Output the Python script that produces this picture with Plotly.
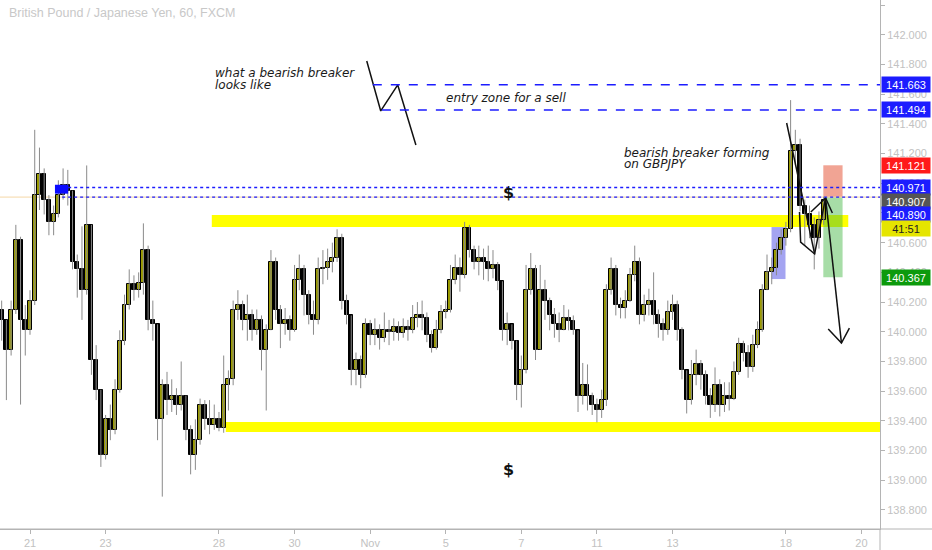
import plotly.graph_objects as go

start_day = -0.75
bars_per_day = 8
first_open = 140.15

closes = [
    140.08, 139.88, 140.15, 140.62, 140.08, 140.01,                    # Oct 18
    140.21, 140.92, 141.06, 140.89, 140.74, 140.79, 140.92, 140.99,    # Oct 21
    140.95, 140.47, 140.42, 140.28, 140.72, 139.81, 139.61, 139.17,    # Oct 22
    139.41, 139.34, 139.61, 139.94, 140.18, 140.32, 140.28, 140.33,    # Oct 23
    140.55, 140.08, 140.05, 139.41, 139.64, 139.54, 139.57, 139.51,    # Oct 24
    139.57, 139.34, 139.17, 139.27, 139.51, 139.41, 139.37, 139.41,    # Oct 25
    139.35, 139.64, 139.68, 140.15, 140.18, 140.08, 140.11, 140.01,    # Oct 28
    140.08, 139.88, 140.01, 140.47, 140.15, 140.05, 140.08, 140.01,    # Oct 29
    140.35, 140.42, 140.25, 140.11, 140.08, 140.42, 140.43, 140.47,    # Oct 30
    140.50, 140.63, 140.21, 140.11, 139.74, 139.81, 139.71, 140.05,    # Oct 31
    139.98, 140.01, 139.96, 140.01, 140.00, 140.03, 139.99, 140.03,    # Nov 1
    140.01, 140.09, 140.11, 140.09, 139.98, 139.89, 140.01, 140.13,    # Nov 4
    140.15, 140.35, 140.43, 140.38, 140.70, 140.55, 140.47, 140.50,    # Nov 5
    140.47, 140.42, 140.45, 140.34, 140.01, 140.05, 139.94, 139.64,    # Nov 6
    139.74, 140.28, 140.42, 139.88, 140.28, 140.21, 140.11, 140.05,    # Nov 7
    140.01, 140.09, 140.07, 140.01, 139.57, 139.64, 139.57, 139.51,    # Nov 8
    139.47, 139.54, 140.28, 140.42, 140.18, 140.16, 140.21, 140.38,    # Nov 11
    140.47, 140.11, 140.18, 140.21, 140.11, 140.05, 140.01, 140.13,    # Nov 12
    140.18, 140.01, 139.74, 139.54, 139.71, 139.78, 139.71, 139.57,    # Nov 13
    139.51, 139.64, 139.51, 139.57, 139.55, 139.73, 139.92, 139.86,    # Nov 14
    139.76, 139.91, 140.01, 140.28, 140.40, 140.43, 140.55, 140.63,    # Nov 15
    140.69, 141.22, 141.26, 140.85, 140.79, 140.72, 140.63, 140.75,    # Nov 18
    140.89,                                                            # Nov 19
]

highs = [
    140.21, 140.08, 140.21, 140.72, 140.64, 140.18,
    140.28, 141.36, 141.24, 141.10, 140.92, 140.85, 141.02, 141.10,
    141.09, 140.95, 140.52, 140.71, 141.12, 140.72, 139.91, 139.61,
    139.44, 139.51, 139.68, 140.01, 140.25, 140.42, 140.38, 140.40,
    140.73, 140.58, 140.21, 140.05, 139.68, 139.73, 139.68, 139.62,
    139.80, 139.57, 139.37, 139.41, 139.55, 139.54, 139.54, 139.51,
    139.46, 139.84, 139.74, 140.21, 140.28, 140.21, 140.25, 140.15,
    140.15, 140.11, 140.05, 140.55, 140.50, 140.18, 140.16, 140.11,
    140.45, 140.52, 140.45, 140.28, 140.21, 140.50, 140.55, 140.56,
    140.60, 140.69, 140.66, 140.25, 140.11, 139.86, 139.84, 140.09,
    140.08, 140.09, 140.05, 140.13, 140.08, 140.09, 140.07, 140.09,
    140.08, 140.18, 140.20, 140.21, 140.13, 140.01, 140.08, 140.18,
    140.21, 140.45, 140.52, 140.50, 140.74, 140.72, 140.58, 140.58,
    140.56, 140.58, 140.55, 140.47, 140.34, 140.13, 140.05, 139.94,
    139.84, 140.45, 140.53, 140.45, 140.45, 140.35, 140.23, 140.16,
    140.13, 140.18, 140.15, 140.11, 140.01, 139.79, 139.78, 139.59,
    139.55, 139.61, 140.32, 140.50, 140.45, 140.23, 140.28, 140.43,
    140.58, 140.50, 140.25, 140.29, 140.40, 140.15, 140.09, 140.21,
    140.25, 140.21, 140.03, 139.74, 139.81, 139.88, 139.81, 139.74,
    139.62, 139.76, 139.68, 139.66, 139.66, 139.80, 139.96, 139.94,
    139.91, 139.98, 140.07, 140.32, 140.52, 140.50, 140.60, 140.69,
    140.74, 141.56, 141.36, 141.30, 140.89, 140.85, 140.77, 140.81,
    140.91,
]

lows = [
    139.94, 139.54, 139.84, 140.12, 139.51, 139.84,
    139.98, 140.18, 140.82, 140.79, 140.65, 140.65, 140.77, 140.89,
    140.85, 140.42, 140.23, 140.08, 140.25, 139.71, 139.54, 139.09,
    139.14, 139.27, 139.31, 139.59, 139.91, 140.15, 140.21, 140.23,
    140.25, 140.01, 139.94, 139.27, 138.89, 139.44, 139.46, 139.44,
    139.47, 139.27, 139.04, 139.07, 139.24, 139.34, 139.31, 139.34,
    139.33, 139.32, 139.47, 139.64, 140.08, 140.01, 139.94, 139.94,
    139.98, 139.74, 139.47, 140.01, 140.08, 139.89, 139.98, 139.94,
    140.00, 140.28, 140.11, 140.05, 139.98, 140.05, 140.32, 140.35,
    140.40, 140.47, 140.15, 140.05, 139.64, 139.64, 139.62, 139.69,
    139.91, 139.91, 139.88, 139.93, 139.91, 139.94, 139.94, 139.96,
    139.94, 139.99, 140.03, 140.01, 139.93, 139.86, 139.88, 139.99,
    140.09, 140.13, 140.32, 140.27, 140.36, 140.50, 140.42, 140.38,
    140.35, 140.34, 140.36, 140.28, 139.94, 139.91, 139.88, 139.54,
    139.49, 139.72, 140.25, 139.81, 139.88, 140.08, 140.01, 139.96,
    139.93, 140.01, 140.01, 139.98, 139.46, 139.51, 139.47, 139.44,
    139.39, 139.42, 139.50, 140.25, 140.11, 140.09, 140.09, 140.20,
    140.34, 140.05, 140.07, 140.11, 140.05, 139.96, 139.94, 139.98,
    140.08, 139.94, 139.68, 139.45, 139.51, 139.64, 139.61, 139.51,
    139.42, 139.46, 139.43, 139.46, 139.47, 139.54, 139.71, 139.80,
    139.69, 139.73, 139.89, 140.00, 140.28, 140.32, 140.38, 140.52,
    140.58, 140.67, 141.12, 140.81, 140.58, 140.63, 140.42, 140.56,
    140.72,
]

day_ticks = [0, 2, 5, 7, 9, 11, 13, 15, 17, 20, 22]
day_labels = ["21", "23", "28", "30", "Nov", "5", "7", "11", "13", "18", "20"]

# drawn levels
breaker_levels = [141.663, 141.494]
breaker_starts = [9.07, 9.31]
liquidity_levels = [140.971, 140.907]
liquidity_starts = [1.01, 0.85]
upper_zone = (140.705, 140.786)
lower_zone = (139.325, 139.392)
entry, stop, target = 140.907, 141.121, 140.367

# right-axis price labels: text, price, colour, text colour, pixel shift
axis_labels = [
    ("141.663", 141.663, "#1c1cff", "white", 0),
    ("141.494", 141.494, "#1c1cff", "white", 0),
    ("141.121", 141.121, "#ff1a1a", "white", 0),
    ("140.971", 140.971, "#1c1cff", "white", 0),
    ("140.907", 140.907, "#555555", "white", -4),
    ("140.890", 140.890, "#1c1cff", "white", -15),
    ("41:51", 140.890, "#e5e500", "#222222", -29),
    ("140.367", 140.367, "#0c9a0c", "white", 0),
]

# hand drawn lines (day, price)
breaker_sketch = [(8.91, 141.823), (9.28, 141.487), (9.73, 141.662), (10.21, 141.258)]
spike_line = [(20.02, 141.406), (20.76, 140.524)]
v_shape = [(20.36, 140.806), (20.39, 140.604), (20.76, 140.524), (21.05, 140.901)]
caret = [(20.66, 140.806), (21.05, 140.901), (21.23, 140.800)]
arrow = [(21.05, 140.901), (21.47, 139.924)]
arrow_head = [(21.12, 140.018), (21.47, 139.924), (21.68, 140.025)]

X_RANGE = [-0.794, 22.49]
Y_RANGE = [138.672, 142.234]
PLOT_W, PLOT_H = 880, 529

n = len(closes)
times = [start_day + i / bars_per_day for i in range(n)]
opens = [first_open] + closes[:-1]

fig = go.Figure()

# wicks
wx, wy = [], []
for t, h, l in zip(times, highs, lows):
    wx += [t, t, None]
    wy += [l, h, None]
fig.add_trace(go.Scatter(x=wx, y=wy, mode="lines", line=dict(color="#8a8a8a", width=1),
                         hoverinfo="skip"))

# bodies
fig.add_trace(go.Bar(
    x=times,
    y=[max(abs(c - o), 0.004) for o, c in zip(opens, closes)],
    base=[min(o, c) for o, c in zip(opens, closes)],
    width=0.105,
    marker=dict(color=["#9a9a00" if c >= o else "#000000" for o, c in zip(opens, closes)],
                line=dict(color="#000000", width=1)),
    hoverinfo="skip",
))

for pts in [breaker_sketch, spike_line, v_shape, caret, arrow, arrow_head]:
    fig.add_trace(go.Scatter(x=[p[0] for p in pts], y=[p[1] for p in pts], mode="lines",
                             line=dict(color="#111111", width=1.5), hoverinfo="skip"))

shapes = []
# zones
shapes.append(dict(type="rect", layer="below", x0=4.81, x1=21.65, y0=upper_zone[0], y1=upper_zone[1],
                   fillcolor="#ffff00", line_width=0))
shapes.append(dict(type="rect", layer="below", x0=5.18, x1=X_RANGE[1], y0=lower_zone[0], y1=lower_zone[1],
                   fillcolor="#ffff00", line_width=0))
shapes.append(dict(type="rect", layer="below", x0=19.62, x1=19.99, y0=140.355, y1=140.705,
                   fillcolor="rgba(90,90,230,0.55)", line_width=0))
shapes.append(dict(type="rect", layer="below", x0=20.99, x1=21.50, y0=entry, y1=stop,
                   fillcolor="rgba(230,90,60,0.55)", line_width=0))
shapes.append(dict(type="rect", layer="below", x0=20.99, x1=21.50, y0=target, y1=entry,
                   fillcolor="rgba(60,180,60,0.45)", line_width=0))
# faint price line
shapes.append(dict(type="line", layer="below", x0=X_RANGE[0], x1=X_RANGE[1], y0=140.907, y1=140.907,
                   line=dict(color="#f5d7a6", width=1)))
# liquidity box + dotted lines
shapes.append(dict(type="rect", x0=0.66, x1=1.01, y0=140.93, y1=140.99, fillcolor="#0a0aff", line_width=0))
for lv, x0 in zip(liquidity_levels, liquidity_starts):
    shapes.append(dict(type="line", x0=x0, x1=X_RANGE[1], y0=lv, y1=lv,
                       line=dict(color="#1c1cff", width=1.4, dash="dot")))
for lv, x0 in zip(breaker_levels, breaker_starts):
    shapes.append(dict(type="line", x0=x0, x1=X_RANGE[1], y0=lv, y1=lv,
                       line=dict(color="#1c1cff", width=1.5, dash="dash")))
# axis lines stretching into the margins
shapes.append(dict(type="line", xref="paper", yref="paper", x0=0, x1=932 / PLOT_W, y0=0, y1=0,
                   line=dict(color="#b4b4b4", width=1)))
shapes.append(dict(type="line", xref="paper", yref="paper", x0=1, x1=1, y0=0, y1=-21 / PLOT_H,
                   line=dict(color="#b4b4b4", width=1)))


def at(px, py):
    return dict(x=px / PLOT_W, y=1 - py / PLOT_H, xref="paper", yref="paper")


ann = []
ann.append(dict(**at(7, 13), text="British Pound / Japanese Yen, 60, FXCM", showarrow=False,
                xanchor="left", yanchor="middle",
                font=dict(family="Liberation Sans", size=12.5, color="#c8c8c8")))
note_font = dict(family="DejaVu Sans", size=12, color="#1a1a1a")
for txt, px, py in [("what a bearish breaker", 213, 73), ("looks like", 213, 85),
                    ("entry zone for a sell", 444, 98),
                    ("bearish breaker forming", 622, 153), ("on GBPJPY", 622, 164)]:
    ann.append(dict(**at(px, py), text="<i>" + txt + "</i>", showarrow=False,
                    xanchor="left", yanchor="middle", font=note_font))
for py in [193, 469]:
    ann.append(dict(**at(509, py), text="<b>$</b>", showarrow=False, xanchor="center", yanchor="middle",
                    font=dict(family="DejaVu Sans", size=16, color="#111111")))
for txt, price, bg, fg, shift in axis_labels:
    ann.append(dict(x=1, xref="paper", y=price, yref="y", yshift=shift, text=txt, showarrow=False,
                    xanchor="left", yanchor="middle", xshift=1, width=46, height=13, bgcolor=bg,
                    font=dict(family="Liberation Sans", size=11, color=fg)))

axis_font = dict(family="Liberation Sans", size=11, color="#c2c2c2")
fig.update_layout(
    width=932, height=550,
    margin=dict(l=0, r=52, t=0, b=21),
    plot_bgcolor="white", paper_bgcolor="white",
    showlegend=False, bargap=0,
    shapes=shapes, annotations=ann,
    xaxis=dict(range=X_RANGE, tickvals=day_ticks, ticktext=day_labels, ticks="outside", ticklen=4,
               tickcolor="#b4b4b4", showline=True, linecolor="#b4b4b4", showgrid=False, zeroline=False,
               tickfont=axis_font, fixedrange=True),
    yaxis=dict(range=Y_RANGE, side="right", tick0=138.8, dtick=0.2, tickformat=".3f", ticks="outside",
               ticklen=4, tickcolor="#b4b4b4", showline=True, linecolor="#b4b4b4", showgrid=False,
               zeroline=False, tickfont=axis_font, fixedrange=True),
)

# page body has a default margin that would push the 932x550 figure off the window
fig.write_html("out.html", config={"displayModeBar": False},
               post_script="document.body.style.margin='0';document.body.style.overflow='hidden';")
